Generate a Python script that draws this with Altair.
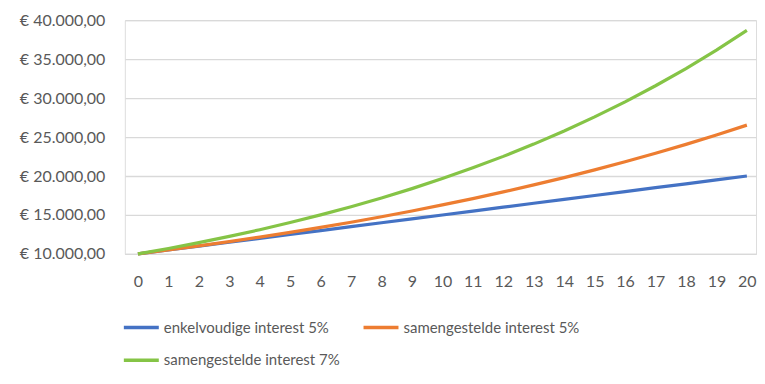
import altair as alt
import pandas as pd

years = list(range(0, 21))
enkelvoudig_5 = [10000, 10500, 11000, 11500, 12000, 12500, 13000, 13500, 14000, 14500,
                 15000, 15500, 16000, 16500, 17000, 17500, 18000, 18500, 19000, 19500, 20000]
samengesteld_5 = [10000, 10500, 11025, 11576, 12155, 12763, 13401, 14071, 14775, 15513,
                  16289, 17103, 17959, 18856, 19799, 20789, 21829, 22920, 24066, 25270, 26533]
samengesteld_7 = [10000, 10700, 11449, 12250, 13108, 14026, 15007, 16058, 17182, 18385,
                  19672, 21049, 22522, 24098, 25785, 27590, 29522, 31588, 33799, 36165, 38697]

series_names = ["enkelvoudige interest 5%", "samengestelde interest 5%", "samengestelde interest 7%"]
series_colors = ["#4472C4", "#ED7D31", "#85C446"]
# legend fills column by column: order so that row 1 = blue, orange; row 2 = green
legend_order = [series_names[0], series_names[2], series_names[1]]
legend_colors = [series_colors[0], series_colors[2], series_colors[1]]
y_ticks = [10000, 15000, 20000, 25000, 30000, 35000, 40000]

rows = []
for name, vals in zip(series_names, [enkelvoudig_5, samengesteld_5, samengesteld_7]):
    for yr, v in zip(years, vals):
        rows.append({"jaar": yr, "waarde": v, "reeks": name})
df = pd.DataFrame(rows)

FONT = "Lato"
GRAY = "#595959"

chart = alt.Chart(df).mark_line(strokeWidth=3.2).encode(
    x=alt.X("jaar:Q", scale=alt.Scale(domain=[-0.43, 20.3], nice=False, zero=False),
            axis=alt.Axis(values=years, title=None, grid=False, ticks=False,
                          domainColor="#D9D9D9", domainWidth=1.3,
                          labelFont=FONT, labelFontSize=16, labelColor=GRAY,
                          labelPadding=20, labelFlush=False)),
    y=alt.Y("waarde:Q", scale=alt.Scale(domain=[10000, 40000], nice=False, zero=False),
            axis=alt.Axis(values=y_ticks, title=None, domain=False, ticks=False,
                          gridColor="#D9D9D9", gridWidth=1.3,
                          labelExpr="'€ ' + floor(datum.value / 1000) + '.000,00'",
                          labelFont=FONT, labelFontSize=16, labelColor=GRAY,
                          labelPadding=20, minExtent=111, maxExtent=111)),
    color=alt.Color("reeks:N",
                    scale=alt.Scale(domain=legend_order, range=legend_colors),
                    legend=alt.Legend(title=None, orient="none", legendX=-3, legendY=288,
                                      columns=2, columnPadding=16, rowPadding=5,
                                      symbolType="stroke", symbolStrokeWidth=3.5,
                                      symbolSize=1225, labelOffset=3, labelLimit=0,
                                      labelFont=FONT, labelFontSize=15, labelColor=GRAY,
                                      padding=0)),
).properties(width=632, height=234,
             padding={"left": 6, "top": 4, "right": 0, "bottom": 2})

chart = chart.configure_view(stroke=None).configure(background="white")

chart.save("out.html", embed_options={"renderer": "svg", "actions": False})
